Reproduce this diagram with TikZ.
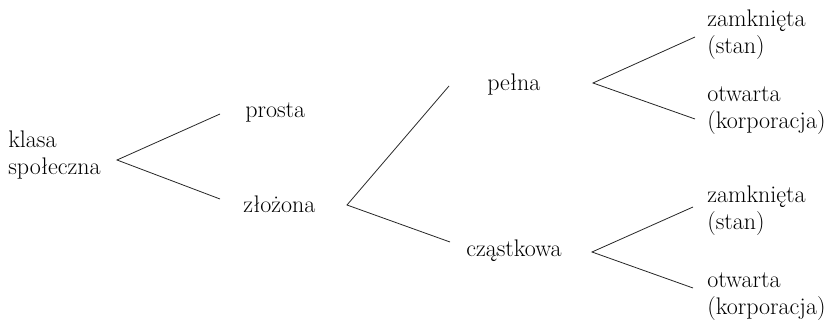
\documentclass[tikz,border=0pt]{standalone}
\usepackage{fontspec}
\usetikzlibrary{calc}

\begin{document}
\begin{tikzpicture}[x=0.75pt,y=-0.75pt,
    every node/.style={inner sep=0pt,font=\fontsize{18}{20.25}\selectfont},
    term/.style={anchor=base west,align=left},
    branch/.style={line width=0.6pt,black!85}]

    \useasboundingbox (0,0) rectangle (839,324);

    %% root (base = last line)
    \node[term] (klasa) at (8,175) {klasa\\społeczna};

    %% level 1
    \node[term] (prosta) at (245,118) {prosta};
    \node[term] (zlozona) at (243,213) {złożona};

    %% level 2
    \node[term] (pelna) at (487,91) {pełna};
    \node[term] (czastkowa) at (466,257) {cząstkowa};

    %% level 3
    \node[term] (zamkA) at (707,54) {zamknięta\\(stan)};
    \node[term] (otwA) at (707,129) {otwarta\\(korporacja)};
    \node[term] (zamkB) at (707,229) {zamknięta\\(stan)};
    \node[term] (otwB) at (707,314) {otwarta\\(korporacja)};

    %%%%%%%%%%%%%%%%
    %% fork points and line ends
    \coordinate (klasa-out) at (117,160);
    \coordinate (prosta-in) at (220,114);
    \coordinate (zlozona-in) at (220,199);
    \coordinate (zlozona-out) at (347,205);
    \coordinate (pelna-in) at (449,86);
    \coordinate (czastkowa-in) at (450,242);
    \coordinate (pelna-out) at (593,83);
    \coordinate (zamkA-in) at (695,37);
    \coordinate (otwA-in) at (695,119);
    \coordinate (czastkowa-out) at (592,252);
    \coordinate (zamkB-in) at (693,207);
    \coordinate (otwB-in) at (693,288);

    %% branches
    \draw[branch] (prosta-in) -- (klasa-out) -- (zlozona-in);
    \draw[branch] (pelna-in) -- (zlozona-out) -- (czastkowa-in);
    \draw[branch] (zamkA-in) -- (pelna-out) -- (otwA-in);
    \draw[branch] (zamkB-in) -- (czastkowa-out) -- (otwB-in);

\end{tikzpicture}
\end{document}
